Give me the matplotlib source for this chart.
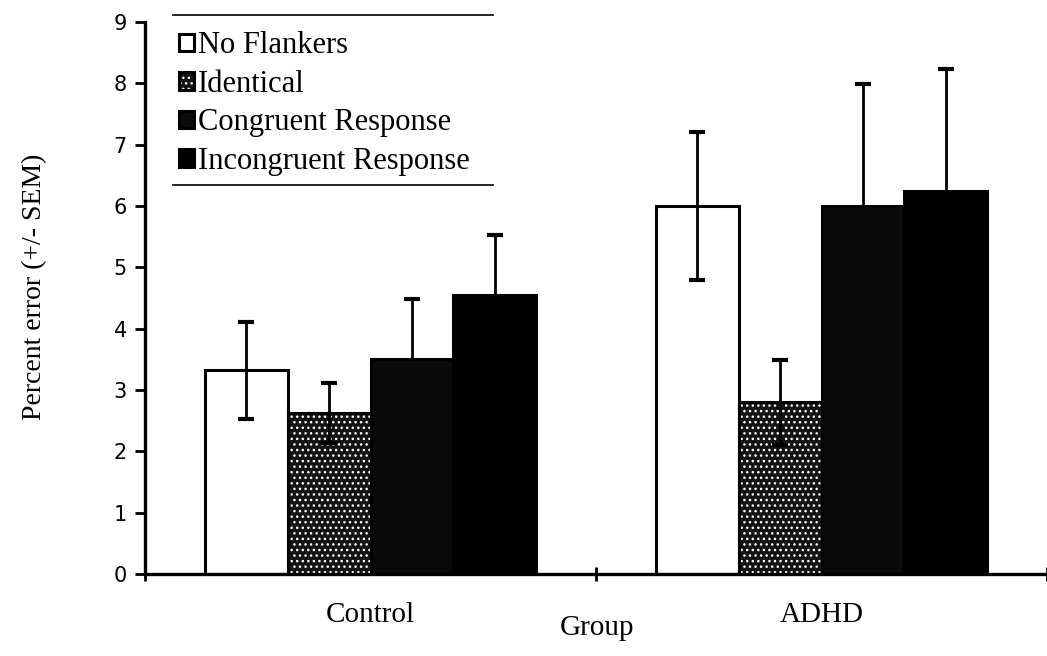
import matplotlib
matplotlib.use("Agg")
import matplotlib.pyplot as plt
from matplotlib.lines import Line2D
import numpy as np

# Percent error by flanker condition for each group
groups = ["Control", "ADHD"]
conditions = ["No Flankers", "Identical", "Congruent Response", "Incongruent Response"]
no_flankers = [3.32, 6.00]
identical = [2.63, 2.80]
congruent = [3.50, 6.00]
incongruent = [4.55, 6.25]
no_flankers_sem = [0.79, 1.21]
identical_sem = [0.49, 0.69]
congruent_sem = [0.98, 1.99]
incongruent_sem = [0.98, 1.98]
y_ticks = [0, 1, 2, 3, 4, 5, 6, 7, 8, 9]

means = [no_flankers, identical, congruent, incongruent]
sems = [no_flankers_sem, identical_sem, congruent_sem, incongruent_sem]

serif = ["Liberation Serif", "DejaVu Serif"]
plt.rcParams["hatch.linewidth"] = 1.0

fig = plt.figure(figsize=(10.47, 6.56), dpi=100)
ax = fig.add_axes([0.1385, 0.125, 0.8615, 0.8415])

width = 0.184
centers = np.arange(len(groups)) + 0.5
offsets = (np.arange(len(conditions)) - 1.5) * width

styles = [
    dict(facecolor="white", hatch=None, err_z=4),
    dict(facecolor="#141414", hatch="...", err_z=4),
    dict(facecolor="#0a0a0a", hatch=None, err_z=1),
    dict(facecolor="#000000", hatch=None, err_z=1),
]

handles = []
for vals, errs, off, st in zip(means, sems, offsets, styles):
    x = centers + off
    fill = ax.bar(x, vals, width, color=st["facecolor"], edgecolor="white",
                  linewidth=0, hatch=st["hatch"], zorder=2)
    edge = ax.bar(x, vals, width, fill=False, edgecolor="black",
                  linewidth=2.2, zorder=3)
    ax.errorbar(x, vals, yerr=errs, fmt="none", ecolor="black",
                elinewidth=2.0, capsize=5.5, capthick=3.0, zorder=st["err_z"])
    handles.append((fill.patches[0], edge.patches[0]))

ax.set_xlim(0, 2)
ax.set_ylim(0, 9)
ax.set_yticks(y_ticks)
ax.set_yticklabels([str(t) for t in y_ticks], fontfamily="DejaVu Sans", fontsize=15)

ax.set_xticks([0, 1, 2])
ax.set_xticklabels([])
ax.set_xticks(centers, minor=True)
ax.set_xticklabels(groups, minor=True, fontfamily=serif, fontsize=21)
ax.tick_params(axis="x", which="minor", length=0, pad=20)
ax.tick_params(axis="x", which="major", direction="inout", length=10, width=2)
ax.tick_params(axis="y", direction="out", length=7, width=2, pad=6)

for side in ("top", "right"):
    ax.spines[side].set_visible(False)
for side in ("left", "bottom"):
    ax.spines[side].set_linewidth(2.4)

ax.set_ylabel("Percent error (+/- SEM)", fontfamily=serif, fontsize=20)
ax.yaxis.set_label_coords(-0.108, 0.52)
ax.set_xlabel("Group", fontfamily=serif, fontsize=21, va="top")
ax.xaxis.set_label_coords(0.501, -0.075)

leg = ax.legend(handles, conditions, loc="upper left",
                bbox_to_anchor=(0.031, 0.994), frameon=False,
                prop={"family": serif, "size": 22},
                handlelength=0.5, handleheight=0.5, handletextpad=0.12,
                labelspacing=0.31, borderpad=0.2, borderaxespad=0)

# rules above and below the legend block
for yy in (0.977, 0.718):
    fig.add_artist(Line2D([0.165, 0.471], [yy, yy], color="black", lw=1.2))

fig.savefig("out.png", dpi=100)
